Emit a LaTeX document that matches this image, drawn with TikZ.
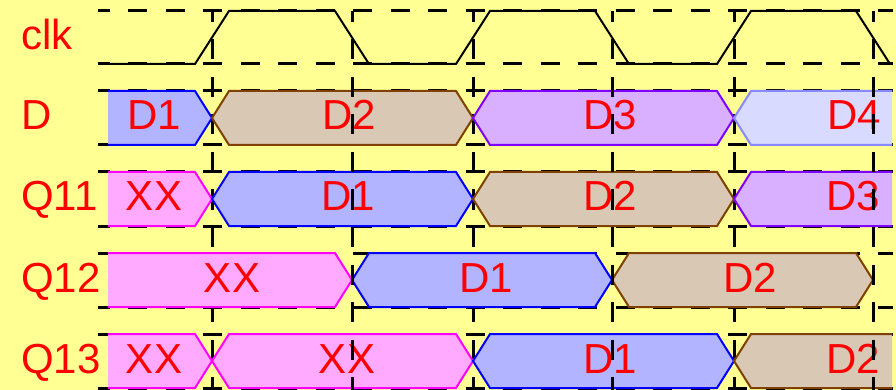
\documentclass[tikz,border=0pt]{standalone}
\usepackage{fontspec}
\setmainfont{Liberation Sans}

\definecolor{bgyellow}{RGB}{255,255,148}
\definecolor{sigred}{RGB}{255,0,0}
% bus colours: fill / edge
\definecolor{bluefill}{RGB}{178,180,255}
\definecolor{blueedge}{RGB}{0,0,255}
\definecolor{brownfill}{RGB}{216,200,180}
\definecolor{brownedge}{RGB}{128,64,0}
\definecolor{violetfill}{RGB}{216,176,255}
\definecolor{violetedge}{RGB}{128,0,255}
\definecolor{palefill}{RGB}{216,218,255}
\definecolor{paleedge}{RGB}{136,136,255}
\definecolor{pinkfill}{RGB}{255,170,255}
\definecolor{pinkedge}{RGB}{255,0,255}

\tikzset{
  hgrid/.style={black, line width=3pt, dash pattern=on 19pt off 18.5pt, dash phase=7.5pt},
  vgrid/.style={black, line width=3pt, dash pattern=on 20pt off 17.5pt, dash phase=9pt},
  clockline/.style={black, line width=2pt},
  busedge/.style={line width=2pt},
  siglabel/.style={text=sigred, font=\fontsize{42}{50}\selectfont, inner sep=0pt, anchor=base west},
  bustext/.style={text=sigred, font=\fontsize{42}{50}\selectfont, inner sep=0pt, anchor=base},
}

% bus segment with a crossing at both ends: {x left}{x right}{y top}{fill}{edge}
\newcommand\segTT[5]{%
  \fill[#4] (#1,#3+27) -- (#1+17,#3) -- (#2-17,#3) -- (#2,#3+27) -- (#2-17,#3+54) -- (#1+17,#3+54) -- cycle;
  \draw[busedge,#5] (#1,#3+27) -- (#1+17,#3) -- (#2-17,#3) -- (#2,#3+27) -- (#2-17,#3+54) -- (#1+17,#3+54) -- cycle;}
% open on the left, crossing on the right
\newcommand\segOT[5]{%
  \fill[#4] (#1,#3) -- (#2-17,#3) -- (#2,#3+27) -- (#2-17,#3+54) -- (#1,#3+54) -- cycle;
  \draw[busedge,#5] (#1,#3) -- (#2-17,#3) -- (#2,#3+27) -- (#2-17,#3+54) -- (#1,#3+54);}
% crossing on the left, open on the right
\newcommand\segTO[5]{%
  \fill[#4] (#2,#3) -- (#1+17,#3) -- (#1,#3+27) -- (#1+17,#3+54) -- (#2,#3+54) -- cycle;
  \draw[busedge,#5] (#2,#3) -- (#1+17,#3) -- (#1,#3+27) -- (#1+17,#3+54) -- (#2,#3+54);}

\begin{document}
\begin{tikzpicture}[x=1pt,y=-1pt]
  \fill[bgyellow] (0,0) rectangle (896,390);
  \useasboundingbox (0,0) rectangle (896,390);

  % row guide lines
  \foreach \yy in {11,64,91,145,172,226,253,307,334,388}
    \draw[hgrid] (98,\yy) -- (893,\yy);

  % rising clock edges (behind the buses)
  \foreach \xx in {212,473,734}
    \draw[vgrid] (\xx,11) -- (\xx,390);

  % D
  \segOT{108}{212}{91}{bluefill}{blueedge}
  \segTT{212}{473}{91}{brownfill}{brownedge}
  \segTT{473}{734}{91}{violetfill}{violetedge}
  \segTO{734}{892}{91}{palefill}{paleedge}
  % Q11
  \segOT{108}{212}{172}{pinkfill}{pinkedge}
  \segTT{212}{473}{172}{bluefill}{blueedge}
  \segTT{473}{734}{172}{brownfill}{brownedge}
  \segTO{734}{892}{172}{violetfill}{violetedge}
  % Q12
  \segOT{108}{352}{253}{pinkfill}{pinkedge}
  \segTT{352}{612}{253}{bluefill}{blueedge}
  \segTT{612}{873}{253}{brownfill}{brownedge}
  % Q13
  \segOT{108}{212}{334}{pinkfill}{pinkedge}
  \segTT{212}{473}{334}{pinkfill}{pinkedge}
  \segTT{473}{734}{334}{bluefill}{blueedge}
  \segTO{734}{892}{334}{brownfill}{brownedge}

  % clock waveform
  \draw[clockline] (108,64) -- (195,64) -- (229,11) -- (335,11) -- (369,64)
    -- (456,64) -- (490,11) -- (595,11) -- (629,64) -- (717,64) -- (751,11)
    -- (856,11) -- (890,64);

  % signal names
  \node[siglabel] (lclk) at (21,50)  {clk};
  \node[siglabel] (ld)   at (21,130) {D};
  \node[siglabel] (lq11) at (21,211) {Q11};
  \node[siglabel] (lq12) at (21,292) {Q12};
  \node[siglabel] (lq13) at (21,373) {Q13};

  % bus values
  \node[bustext] (d1)   at (154,130) {D1};
  \node[bustext] (d2)   at (349,130) {D2};
  \node[bustext] (d3)   at (610,130) {D3};
  \node[bustext] (d4)   at (854,130) {D4};
  \node[bustext] (q11a) at (154,211) {XX};
  \node[bustext] (q11b) at (348,211) {D1};
  \node[bustext] (q11c) at (610,211) {D2};
  \node[bustext] (q11d) at (853,211) {D3};
  \node[bustext] (q12a) at (232,292) {XX};
  \node[bustext] (q12b) at (486,292) {D1};
  \node[bustext] (q12c) at (750,292) {D2};
  \node[bustext] (q13a) at (154,373) {XX};
  \node[bustext] (q13b) at (347,373) {XX};
  \node[bustext] (q13c) at (610,373) {D1};
  \node[bustext] (q13d) at (853,373) {D2};

  % falling clock edges (over the buses)
  \foreach \xx in {352,612,873}
    \draw[vgrid] (\xx,11) -- (\xx,390);
\end{tikzpicture}
\end{document}
